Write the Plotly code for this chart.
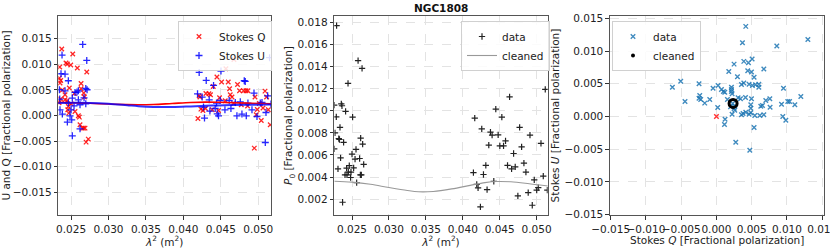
import plotly.graph_objects as go

# ---------------- Panel 1: Stokes Q and U vs lambda^2 ----------------
lam_q = [0.02376, 0.02523, 0.02433, 0.02451, 0.02496, 0.02584, 0.02710, 0.02349, 0.02344, 0.02362,
         0.02353, 0.02634, 0.02477, 0.02384, 0.02634, 0.02544, 0.02670, 0.02678, 0.02362, 0.02420,
         0.02447, 0.02464, 0.02456, 0.02469, 0.02553, 0.02598, 0.02611, 0.02620, 0.02651, 0.02670,
         0.02687, 0.02701, 0.02731, 0.02420, 0.02500, 0.02340,
         0.04675, 0.04568, 0.04448, 0.04510, 0.04599, 0.04723, 0.04399, 0.04617, 0.04750, 0.04804,
         0.04836, 0.04862, 0.05090, 0.04341, 0.04301, 0.04211, 0.04221, 0.04362, 0.04483, 0.04626,
         0.04649, 0.04956, 0.05111, 0.04559, 0.04670, 0.04857, 0.04773, 0.05014, 0.04234, 0.04261,
         0.04296, 0.04385, 0.04469, 0.04987, 0.05063, 0.05134, 0.04973, 0.04194, 0.05040, 0.05160,
         0.04947]
stokes_q = [0.01299, 0.01201, 0.01025, 0.01005, 0.00986, 0.00927, 0.00849, 0.00947, 0.00732, 0.00685,
            0.00634, 0.00626, 0.00536, 0.00497, 0.00522, 0.00430, 0.00438, 0.00360, 0.00321, 0.00307,
            0.00288, 0.00176, 0.00111, 0.00047, 0.00078, -0.00006, -0.00031, -0.00182, -0.00246, -0.00246,
            -0.00246, -0.00520, -0.00462, 0.00405, 0.00229, 0.00248,
            0.01095, 0.00913, 0.00751, 0.00653, 0.00653, 0.00606, 0.00567, 0.00522, 0.00483, 0.00483,
            0.00483, 0.00483, 0.00477, 0.00424, 0.00430, 0.00385, 0.00360, 0.00405, 0.00346, 0.00405,
            0.00360, 0.00360, 0.00360, 0.00288, 0.00235, 0.00184, 0.00209, 0.00235, 0.00125, 0.00098,
            0.00137, 0.00111, 0.00098, 0.00117, 0.00145, 0.00111, 0.00014, -0.00059, -0.00098, -0.00182,
            -0.00638]

lam_u = [0.02656, 0.02710, 0.02366, 0.02420, 0.02464, 0.02697, 0.02714, 0.02344, 0.02420, 0.02598,
         0.02580, 0.02553, 0.02349, 0.02517, 0.02464, 0.02500, 0.02384, 0.02487, 0.02509, 0.02451,
         0.02620, 0.02517, 0.02697, 0.02598, 0.02353, 0.02620, 0.02674, 0.02540, 0.02380,
         0.05151, 0.04211, 0.04502, 0.04305, 0.04403, 0.04813, 0.04826, 0.04189, 0.04943, 0.05125,
         0.04251, 0.04345, 0.04443, 0.04492, 0.04612, 0.04693, 0.04760, 0.04862, 0.05050, 0.05170,
         0.04269, 0.04354, 0.04425, 0.04469, 0.04555, 0.04635, 0.04715, 0.04782, 0.04840, 0.04916,
         0.04983, 0.05103, 0.04282, 0.04452, 0.05094, 0.05027]
stokes_u = [0.01389, 0.01076, 0.00816, 0.00810, 0.00679, 0.00528, 0.00503, 0.00503, 0.00483, 0.00483,
            0.00458, 0.00450, 0.00321, 0.00340, 0.00243, 0.00111, 0.00027, -0.00006, -0.00084, -0.00129,
            -0.00260, -0.00397, 0.00229, 0.00307, 0.00111, 0.00210, 0.00346, 0.00190, 0.01180,
            0.01129, 0.00841, 0.00868, 0.00685, 0.00587, 0.00679, 0.00665, 0.00424, 0.00438, 0.00385,
            0.00360, 0.00307, 0.00243, 0.00293, 0.00293, 0.00254, 0.00268, 0.00243, 0.00254, 0.00223,
            0.00164, 0.00086, 0.00137, -0.00006, 0.00111, 0.00137, -0.00006, 0.00027, -0.00006, 0.00111,
            -0.00020, 0.00059, -0.00051, 0.00033, -0.00528, 0.00243]

lam_model = [0.0226, 0.0250, 0.0275, 0.0300, 0.0325, 0.0340, 0.0360, 0.0385, 0.0410, 0.0430,
             0.0446, 0.0465, 0.0490, 0.0517]
q_model = [0.00255, 0.00250, 0.00238, 0.00224, 0.00212, 0.00209, 0.00215, 0.00235, 0.00255, 0.00261,
           0.00258, 0.00250, 0.00240, 0.00229]
u_model = [0.00242, 0.00248, 0.00246, 0.00230, 0.00200, 0.00182, 0.00167, 0.00165, 0.00178, 0.00190,
           0.00197, 0.00205, 0.00212, 0.00216]

# ---------------- Panel 2: polarized fraction ----------------
lam_p = [0.02291, 0.02582, 0.02636, 0.02446, 0.02259, 0.02355, 0.02364, 0.02413, 0.02287, 0.02508,
         0.02337, 0.02269, 0.02321, 0.02330, 0.02617, 0.02644, 0.02386, 0.02259, 0.02500, 0.02554,
         0.02603, 0.02541, 0.02345, 0.02658, 0.02310, 0.02463, 0.02427, 0.02522, 0.02450, 0.02486,
         0.02405, 0.02432, 0.02481, 0.02613, 0.02626, 0.02563, 0.02372,
         0.05117, 0.04634, 0.04447, 0.04162, 0.04529, 0.04257, 0.04770, 0.04375, 0.04397, 0.04479,
         0.04910, 0.04579, 0.04352, 0.04502, 0.04552, 0.05059, 0.04797, 0.04688, 0.04312, 0.04606,
         0.04661, 0.04710, 0.04828, 0.04144, 0.04280, 0.04855, 0.05090, 0.04420, 0.04968, 0.04189,
         0.04207, 0.04329, 0.05022, 0.05001, 0.05145, 0.04886, 0.04746, 0.04941, 0.04239]
p_data = [0.01770, 0.01453, 0.01383, 0.01248, 0.01051, 0.01063, 0.01045, 0.00994, 0.00945, 0.00942,
          0.00849, 0.00800, 0.00748, 0.00740, 0.00752, 0.00698, 0.00713, 0.00655, 0.00607, 0.00650,
          0.00568, 0.00562, 0.00574, 0.00514, 0.00474, 0.00504, 0.00480, 0.00483, 0.00444, 0.00444,
          0.00420, 0.00420, 0.00396, 0.00420, 0.00420, 0.00350, 0.00172,
          0.01193, 0.01126, 0.01015, 0.00933, 0.00942, 0.00836, 0.00849, 0.00806, 0.00779, 0.00782,
          0.00779, 0.00728, 0.00689, 0.00683, 0.00683, 0.00704, 0.00673, 0.00613, 0.00505, 0.00505,
          0.00474, 0.00492, 0.00526, 0.00441, 0.00423, 0.00444, 0.00408, 0.00362, 0.00374, 0.00333,
          0.00302, 0.00287, 0.00305, 0.00281, 0.00281, 0.00260, 0.00229, 0.00145, 0.00130]
p_clean = [0.00362, 0.00354, 0.00335, 0.00305, 0.00278, 0.00267, 0.00270, 0.00293, 0.00325, 0.00350,
           0.00360, 0.00357, 0.00340, 0.00318]

# ---------------- Panel 3: Q-U plane ----------------
qu_q = [0.00416, 0.01297, 0.00369, 0.00856, 0.00506, 0.00388, 0.00454, 0.00250, 0.00672, 0.00444,
        0.00497, 0.00175, 0.00298, 0.00534, 0.00355, 0.00388, 0.00463, 0.00511, 0.00554, 0.00601,
        0.00601, 0.00951, -0.00247, 0.00023, -0.00048, 0.00071, 0.00099, 0.00118, 0.00213, 0.00213,
        0.00213, 0.00222, -0.00237, -0.00223, -0.00166, -0.00095, 0.00156, 0.00307, 0.00341, 0.00412,
        0.00497, 0.00757, 0.00700, 0.00018, 0.00487, 0.00487, 0.00629, 0.00653, 0.00761, 0.00923,
        0.01012, 0.01037, 0.01112, 0.01197, 0.00250, 0.00260, 0.00355, 0.00378, 0.00416, 0.00463,
        0.00487, 0.00544, 0.00615, 0.00672, 0.00222, 0.00122, 0.00114, 0.00941, 0.00984, 0.00534,
        0.00274, 0.00473, -0.00625, -0.00507, -0.00446, -0.00247, 0.00230, 0.00200, 0.00260]
qu_u = [0.01377, 0.01178, 0.01128, 0.01076, 0.00877, 0.00842, 0.00822, 0.00800, 0.00724, 0.00699,
        0.00678, 0.00689, 0.00607, 0.00601, 0.00490, 0.00510, 0.00494, 0.00474, 0.00485, 0.00494,
        0.00448, 0.00433, 0.00500, 0.00474, 0.00433, 0.00413, 0.00383, 0.00372, 0.00448, 0.00413,
        0.00383, 0.00347, 0.00321, 0.00260, 0.00204, 0.00260, 0.00260, 0.00286, 0.00271, 0.00291,
        0.00271, 0.00271, 0.00245, 0.00138, 0.00179, 0.00127, 0.00158, 0.00168, 0.00142, 0.00188,
        0.00230, 0.00230, 0.00179, 0.00306, 0.00122, 0.00096, 0.00026, 0.00046, 0.00066, 0.00035,
        0.00057, 0.00015, 0.00015, 0.00026, 0.00035, -0.00041, -0.00122, 0.00000, -0.00056, -0.00168,
        -0.00393, -0.00515, 0.00448, 0.00540, 0.00230, 0.00280, 0.00200, 0.00150, 0.00160]
flag_q = [0.0]
flag_u = [0.0]
clean_q = [0.00236]
clean_u = [0.00200]

FONT = "DejaVu Sans"
W, H = 830, 249

def px(x):
    return x / W

def py(y):
    return (H - y) / H

fig = go.Figure()

# Panel 1
fig.add_trace(go.Scatter(x=lam_q, y=stokes_q, mode="markers", name="Stokes Q",
                         marker=dict(symbol="x-thin", size=4.5, color="red",
                                     line=dict(width=1.3, color="rgba(255,0,0,0.85)")),
                         xaxis="x", yaxis="y", legend="legend"))
fig.add_trace(go.Scatter(x=lam_u, y=stokes_u, mode="markers", name="Stokes U",
                         marker=dict(symbol="cross-thin", size=5, color="blue",
                                     line=dict(width=1.3, color="rgba(0,0,255,0.85)")),
                         xaxis="x", yaxis="y", legend="legend"))
fig.add_trace(go.Scatter(x=lam_model, y=q_model, mode="lines", line=dict(color="red", width=1.6, shape="spline"),
                         showlegend=False, xaxis="x", yaxis="y"))
fig.add_trace(go.Scatter(x=lam_model, y=u_model, mode="lines",
                         line=dict(color="rgba(0,0,255,0.8)", width=2, shape="spline"),
                         showlegend=False, xaxis="x", yaxis="y"))

# Panel 2
fig.add_trace(go.Scatter(x=lam_p, y=p_data, mode="markers", name="data",
                         marker=dict(symbol="cross-thin", size=4.5, color="black",
                                     line=dict(width=1.2, color="#222")),
                         xaxis="x2", yaxis="y2", legend="legend2"))
fig.add_trace(go.Scatter(x=lam_model, y=p_clean, mode="lines", name="cleaned",
                         line=dict(color="#999999", width=1.1, shape="spline"),
                         xaxis="x2", yaxis="y2", legend="legend2"))

# Panel 3
fig.add_trace(go.Scatter(x=qu_q, y=qu_u, mode="markers", name="data",
                         marker=dict(symbol="x-thin", size=4.5, color="#1f77b4",
                                     line=dict(width=1.4, color="rgba(31,119,180,0.85)")),
                         xaxis="x3", yaxis="y3", legend="legend3"))
fig.add_trace(go.Scatter(x=flag_q, y=flag_u, mode="markers", showlegend=False,
                         marker=dict(symbol="x-thin", size=4.5, color="red",
                                     line=dict(width=1.4, color="rgba(255,0,0,0.8)")),
                         xaxis="x3", yaxis="y3"))
fig.add_trace(go.Scatter(x=clean_q, y=clean_u, mode="markers", showlegend=False,
                         marker=dict(symbol="circle-open", size=8, color="black",
                                     line=dict(width=3, color="black")),
                         xaxis="x3", yaxis="y3"))
fig.add_trace(go.Scatter(x=[None], y=[None], mode="markers", name="cleaned",
                         marker=dict(symbol="circle", size=4, color="black"),
                         xaxis="x3", yaxis="y3", legend="legend3"))

ydom = [py(215.3), py(15.7)]

def ax(domain, rng, dtick, tick0, title, anchor, fmt=".3f"):
    return dict(domain=domain, range=rng, anchor=anchor, dtick=dtick, tick0=tick0,
                tickformat=fmt, showgrid=True, gridcolor="#e3e3e3", griddash="dash", gridwidth=0.8,
                zeroline=False, showline=True, linecolor="#555", linewidth=1.2, mirror=True,
                ticks="outside", ticklen=3.5, tickwidth=0.9, tickcolor="#333",
                tickangle=0, automargin=False, ticklabeloverflow="allow",
                tickfont=dict(family=FONT, size=10.5, color="#222"),
                title=dict(text=title, font=dict(family=FONT, size=10.5, color="#222"), standoff=2))

lam_title = "<i>λ</i><sup>2</sup> (m<sup>2</sup>)"

layout = dict(
    width=W, height=H, margin=dict(l=0, r=0, t=0, b=0, autoexpand=False),
    paper_bgcolor="white", plot_bgcolor="white",
    font=dict(family=FONT, size=10, color="#222"),
    xaxis=ax([px(58.3), px(271)], [0.0233, 0.0517], 0.005, 0.0, lam_title, "y"),
    yaxis=ax(ydom, [-0.0195, 0.0195], 0.005, 0.0, "U and Q [Fractional polarization]", "x"),
    xaxis2=ax([px(334.3), px(547.7)], [0.0226, 0.0515], 0.005, 0.0, lam_title, "y2"),
    yaxis2=ax(ydom, [0.00054, 0.0186], 0.002, 0.0, "<i>P</i><sub>0</sub> [Fractional polarization]", "x2"),
    xaxis3=ax([px(610), px(824.3)], [-0.0151, 0.0153], 0.005, 0.0,
              "Stokes <i>Q</i> [Fractional polarization]", "y3"),
    yaxis3=ax(ydom, [-0.0151, 0.0154], 0.005, 0.0,
              "Stokes <i>U</i> [Fractional polarization]", "x3"),
    annotations=[dict(text="<b>NGC1808</b>", x=px(441), y=py(8.5), xref="paper", yref="paper",
                      showarrow=False, font=dict(family=FONT, size=10.5, color="#111"),
                      xanchor="center", yanchor="middle")],
)
legend_common = dict(bgcolor="rgba(255,255,255,0.85)", bordercolor="#d0d0d0", borderwidth=1,
                     font=dict(family=FONT, size=10.5, color="#222"), xanchor="left", yanchor="top",
                     itemwidth=30, tracegroupgap=0)
layout["legend"] = dict(x=px(178), y=py(21), **legend_common)
layout["legend2"] = dict(x=px(461), y=py(21), **legend_common)
layout["legend3"] = dict(x=px(612), y=py(21), **legend_common)
fig.update_layout(**layout)

fig.write_html("out.html", config={"displayModeBar": False},
               post_script="document.body.style.margin='0px';document.body.style.overflow='hidden';")
